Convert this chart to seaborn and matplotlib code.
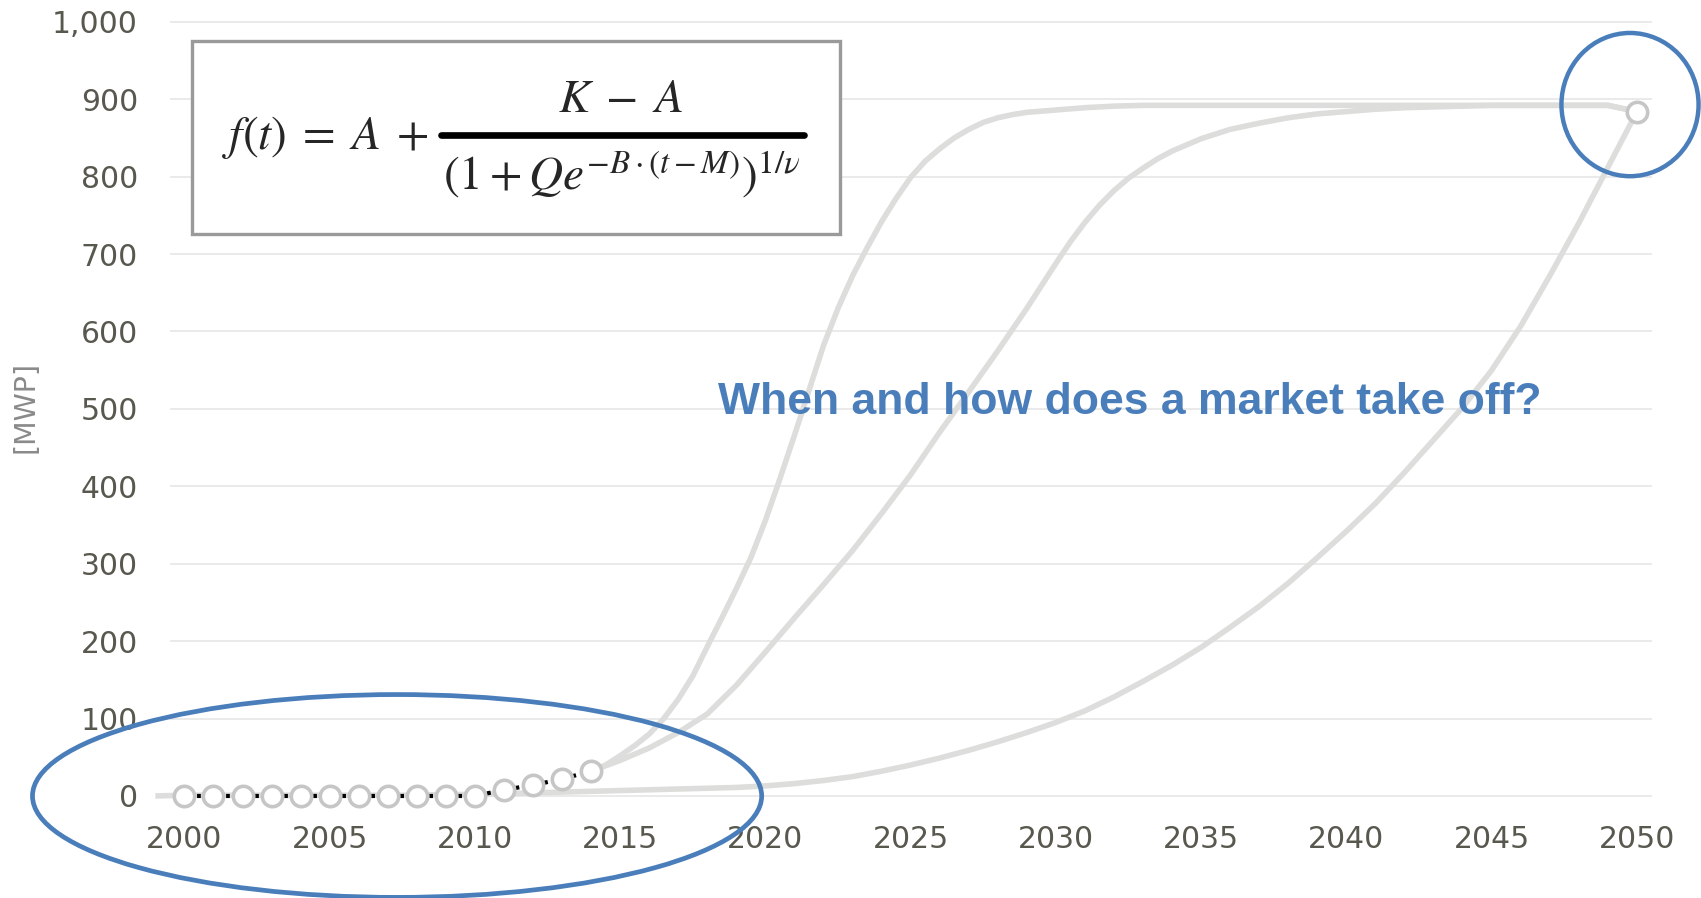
import numpy as np
import pandas as pd
import seaborn as sns
from matplotlib import pyplot as plt
from matplotlib.patches import Ellipse, Rectangle
from matplotlib.lines import Line2D

# historische Werte (MWP)
hist_years = list(range(2000, 2015))
hist_mwp = [0, 0, 0, 0, 0, 0, 0, 0, 0, 0, 0, 8, 14, 22, 32]

# Zielwert
target_year = [2050]
target_mwp = [884]

# drei Szenarien
fast_years = [2014, 2014.5, 2015, 2015.5, 2016, 2016.5, 2017, 2017.5, 2018, 2018.5,
              2019, 2019.5, 2020, 2020.5, 2021, 2021.5, 2022, 2022.5, 2023, 2023.5,
              2024, 2024.5, 2025, 2025.5, 2026, 2026.5, 2027, 2027.5, 2028, 2028.5,
              2029, 2030, 2031, 2032, 2033, 2035, 2040, 2045, 2049, 2050]
fast_mwp = [32, 40, 52, 65, 80, 100, 125, 155, 193, 230,
            268, 308, 356, 410, 466, 524, 582, 630, 672, 708,
            742, 772, 799, 820, 836, 850, 861, 870, 876, 880,
            883, 886, 889, 891, 892, 892, 892, 892, 892, 884]

mid_years = [2014, 2015, 2016, 2017, 2018, 2019, 2020, 2021, 2022, 2023,
             2024, 2025, 2026, 2027, 2028, 2029, 2030, 2030.5, 2031, 2031.5,
             2032, 2032.5, 2033, 2033.5, 2034, 2035, 2036, 2037, 2038, 2039,
             2040, 2041, 2042, 2043, 2044, 2045, 2049, 2050]
mid_mwp = [32, 46, 62, 82, 106, 143, 186, 230, 273, 317,
           365, 415, 470, 522, 575, 630, 688, 716, 741, 763,
           782, 798, 811, 823, 833, 849, 861, 869, 876, 881,
           884, 887, 889, 890, 891, 892, 892, 884]

slow_years = list(range(1999, 2051))
slow_mwp = [0, 1, 1, 1, 1, 1, 1, 1, 1, 1,
            2, 2, 3, 4, 5, 6, 7, 8, 9, 10,
            11, 13, 16, 20, 25, 32, 40, 49, 59, 70,
            82, 95, 110, 128, 148, 169, 192, 218, 245, 275,
            308, 342, 378, 418, 460, 502, 550, 607, 672, 740,
            812, 884]

x_ticks = [2000, 2005, 2010, 2015, 2020, 2025, 2030, 2035, 2040, 2045, 2050]
y_ticks = [0, 100, 200, 300, 400, 500, 600, 700, 800, 900, 1000]

W, H = 1701, 898
BLUE = '#4A7EBB'
CURVE = '#dddddb'

sns.set_style('white')
plt.rcParams['font.family'] = ['DejaVu Sans']
plt.rcParams['mathtext.fontset'] = 'stix'

fig = plt.figure(figsize=(W / 100, H / 100), dpi=100)
# Achse in Pixeln
ax = fig.add_axes([169.9 / W, 1 - 819.2 / H, 1481.6 / W, 805.2 / H])

for yrs, vals in [(slow_years, slow_mwp), (mid_years, mid_mwp), (fast_years, fast_mwp)]:
    sns.lineplot(x=yrs, y=vals, ax=ax, color=CURVE, lw=4.0, zorder=2,
                 clip_on=False, solid_capstyle='butt', solid_joinstyle='round')

# Punktlinie: ein Punkt zwischen zwei Jahren (Abstand 1 Jahr ~ 20.9 pt)
lw_dot = 3.0
period = 20.9 / lw_dot
on = 0.9
dash = (period - (period / 2 - on / 2), (on, period - on))
sns.lineplot(x=hist_years, y=hist_mwp, ax=ax, color='black', lw=lw_dot,
             linestyle=dash, dash_capstyle='butt', zorder=3, clip_on=False)
sns.scatterplot(x=hist_years + target_year, y=hist_mwp + target_mwp, ax=ax,
                s=215, color='white', edgecolor='#c6c6c6', linewidth=2.6,
                zorder=4, clip_on=False)

ax.set_xlim(1999.5, 2050.5)
ax.set_ylim(-30, 1010)
ax.set_xticks(x_ticks)
ax.set_yticks(y_ticks)
ax.set_yticklabels([f'{v:,}' for v in y_ticks])
ax.tick_params(axis='both', length=0, labelsize=21.5, colors='#58584f')
ax.tick_params(axis='y', pad=23)
ax.tick_params(axis='x', pad=4)
ax.grid(axis='y', color='#e6e6e6', lw=1.2)
ax.grid(axis='x', visible=False)
for s in ax.spines.values():
    s.set_visible(False)
ax.set_xlabel('')
ax.set_ylabel('')

# Markierungen
ax.add_patch(Ellipse((2007.32, 0), 25.1, 262, fill=False, ec=BLUE, lw=3.4,
                     zorder=6, clip_on=False))
ax.add_patch(Ellipse((2049.76, 893), 4.72, 185, fill=False, ec=BLUE, lw=3.2,
                     zorder=6, clip_on=False))

fig.text(25 / W, 1 - 407 / H, '[MWP]', rotation=90, ha='center', va='center',
         fontsize=20.5, color='#8a8a8a')

fig.text(1130 / W, 1 - 403 / H, 'When and how does a market take off?',
         ha='center', va='center', fontsize=32, color=BLUE,
         family=['Liberation Sans', 'DejaVu Sans'], weight='bold')

# Formelkasten
fig.patches.append(Rectangle((192 / W, 1 - 234 / H), 648 / W, 193 / H,
                             transform=fig.transFigure, fc='white', ec='#9a9a9a',
                             lw=2.4, zorder=5))
fig.text(222 / W, 1 - 138 / H, r'$f(t)\;=\;A\;+$', ha='left', va='center',
         fontsize=34, zorder=6)
fig.text(621 / W, 1 - 100 / H, r'$K\;-\;A$', ha='center', va='center',
         fontsize=34, zorder=6)
fig.lines.append(Line2D([441 / W, 804 / W], [1 - 135 / H, 1 - 135 / H],
                        transform=fig.transFigure, color='black', lw=4.8, zorder=6))
fig.text(622 / W, 1 - 174 / H, r'$(1 + Qe^{-B\cdot(t-M)})^{1/\nu}$',
         ha='center', va='center', fontsize=34, zorder=6)

fig.savefig('out.png', dpi=100)
